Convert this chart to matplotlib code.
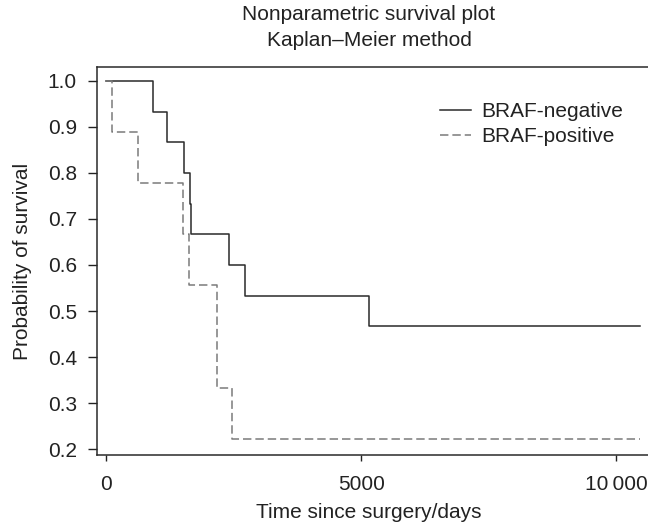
import numpy as np
import matplotlib
matplotlib.use("Agg")
import matplotlib.pyplot as plt

plt.rcParams['font.family'] = ['Liberation Sans', 'DejaVu Sans']
plt.rcParams['font.size'] = 15

# Kaplan-Meier step data (time in days, survival after each step)
neg_times = [0, 922, 1185, 1524, 1650, 1662, 2401, 2721, 5154, 10480]
neg_surv = [1.0, 0.933, 0.867, 0.800, 0.733, 0.667, 0.600, 0.533, 0.467, 0.467]

pos_times = [0, 118, 628, 1505, 1623, 2182, 2460, 10480]
pos_surv = [1.0, 0.889, 0.778, 0.667, 0.556, 0.333, 0.222, 0.222]

y_ticks = [0.2, 0.3, 0.4, 0.5, 0.6, 0.7, 0.8, 0.9, 1.0]
x_ticks = [0, 5000, 10000]
x_ticklabels = ['0', '5000', '10\u2009000']

W, H = 648, 529
fig = plt.figure(figsize=(W / 100, H / 100), dpi=100)
# axes runs past the right edge of the picture (the original is cropped there)
left, right, top, bottom = 97, 680, 67, 455
ax = fig.add_axes([left / W, 1 - bottom / H, (right - left) / W, (bottom - top) / H])

txt = '#222222'
ax.step(neg_times, neg_surv, where='post', color='#2a2a2a', lw=1.1,
        label='BRAF-negative')
ax.step(pos_times, pos_surv, where='post', color='#7a7a7a', lw=1.1,
        dashes=(5.5, 2.6), label='BRAF-positive')

ax.set_xlim(-182, 11256)
ax.set_ylim(0.1876, 1.0297)
ax.set_xticks(x_ticks)
ax.set_xticklabels(x_ticklabels)
ax.set_yticks(y_ticks)
ax.set_yticklabels(['%.1f' % v for v in y_ticks])
ax.tick_params(axis='y', length=6.5, width=1, pad=8, colors=txt)
ax.tick_params(axis='x', length=4.3, width=1, pad=10, colors=txt)
for s in ['left', 'bottom', 'top']:
    ax.spines[s].set_color('#2a2a2a')
    ax.spines[s].set_linewidth(1.1)
ax.spines['right'].set_visible(False)

ax.set_ylabel('Probability of survival', color=txt, labelpad=11)

cx = 369 / W
fig.text(cx, 1 - 14 / H, 'Nonparametric survival plot', ha='center', va='center', color=txt)
fig.text(cx, 1 - 40 / H, 'Kaplan\u2013Meier method', ha='center', va='center', color=txt)
fig.text(cx, 1 - 512 / H, 'Time since surgery/days', ha='center', va='center', color=txt)

ax.legend(frameon=False, loc='upper left', bbox_to_anchor=(440 / W, 1 - 102 / H),
          bbox_transform=fig.transFigure, borderpad=0, borderaxespad=0,
          handlelength=1.5, handletextpad=0.5, labelspacing=0.3,
          labelcolor=txt)

fig.savefig('out.png', dpi=100)
